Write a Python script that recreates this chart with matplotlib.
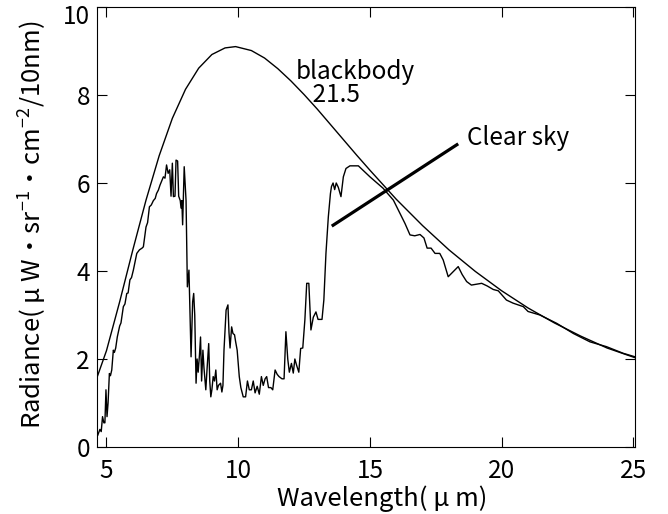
import matplotlib
matplotlib.use("Agg")
import matplotlib.pyplot as plt
from matplotlib.transforms import ScaledTranslation

plt.rcParams['font.family'] = ['Noto Sans CJK JP', 'DejaVu Sans']
plt.rcParams['mathtext.fontset'] = 'custom'
plt.rcParams['mathtext.rm'] = 'Noto Sans CJK JP'
plt.rcParams['mathtext.it'] = 'Noto Sans CJK JP'
plt.rcParams['mathtext.bf'] = 'Noto Sans CJK JP'

# ---- data ----
bb_wl = [4.64, 5.0, 5.5, 6.0, 6.5, 7.0, 7.5, 8.0, 8.5,
         9.0, 9.5, 9.9, 10.5, 11.0, 11.5, 12.0, 12.5, 13.0, 13.5, 14.0, 14.5,
         15.0, 16.0, 17.0, 18.0, 19.0, 20.0, 21.0, 22.0, 23.0, 24.0, 25.06]
bb_rad = [1.58, 2.19, 3.30, 4.48, 5.61, 6.62, 7.47, 8.13, 8.61,
          8.92, 9.07, 9.10, 9.01, 8.84, 8.60, 8.32, 8.01, 7.68, 7.33, 6.98, 6.63,
          6.29, 5.63, 5.03, 4.48, 3.99, 3.55, 3.16, 2.82, 2.52, 2.25, 2.03]

sky_wl = [4.67, 4.75, 4.80, 4.85, 4.90, 4.94, 4.98, 5.02, 5.06, 5.11, 5.15, 5.20,
          5.26, 5.30, 5.35, 5.41, 5.50, 5.55, 5.64, 5.70, 5.77, 5.82, 5.89, 5.95,
          6.02, 6.08, 6.15, 6.25, 6.35, 6.40, 6.50, 6.56, 6.63, 6.70, 6.78, 6.85,
          6.90, 6.97, 7.03, 7.10, 7.16, 7.22, 7.28, 7.34, 7.40, 7.45, 7.50, 7.54,
          7.60, 7.64, 7.70, 7.74, 7.80, 7.83, 7.86, 7.89, 7.95, 8.02, 8.07, 8.13,
          8.21, 8.27, 8.31, 8.35, 8.40, 8.44, 8.48, 8.53, 8.57, 8.61, 8.66, 8.70,
          8.77, 8.82, 8.88, 8.92, 8.96, 9.00, 9.05, 9.10, 9.15, 9.20, 9.25, 9.33,
          9.38, 9.42, 9.46, 9.54, 9.61, 9.65, 9.69, 9.75, 9.80, 9.86, 9.90, 9.96,
          10.04, 10.10, 10.19, 10.28, 10.35, 10.42, 10.50, 10.57, 10.64, 10.72,
          10.80, 10.88, 10.95, 11.02, 11.08, 11.15, 11.24, 11.31, 11.40, 11.48,
          11.55, 11.66, 11.74, 11.81, 11.88, 11.94, 12.02, 12.09, 12.15, 12.22,
          12.30, 12.37, 12.45, 12.53, 12.60, 12.68, 12.76, 12.85, 12.95, 13.03,
          13.10, 13.18, 13.25, 13.33, 13.42, 13.50, 13.54, 13.60, 13.66, 13.72,
          13.80, 13.90, 13.99, 14.09, 14.24, 14.56, 15.00, 15.50, 15.89, 16.14,
          16.33, 16.52, 16.70, 16.90, 17.05, 17.17, 17.32, 17.47, 17.65, 17.78,
          17.97, 18.15, 18.35, 18.50, 18.67, 18.85, 19.05, 19.24, 19.45, 19.68,
          19.87, 20.18, 20.43, 20.82, 21.00, 21.45, 22.09, 22.72, 23.35, 23.98,
          24.61, 25.06]
sky_rad = [0.27, 0.40, 0.35, 0.69, 0.55, 0.55, 1.30, 0.69, 1.00, 1.67, 1.62, 1.75,
           2.20, 2.15, 2.25, 2.50, 2.75, 2.82, 3.19, 3.25, 3.49, 3.50, 3.80, 3.85,
           4.02, 4.20, 4.40, 4.48, 4.52, 4.55, 5.00, 5.10, 5.46, 5.50, 5.60, 5.65,
           5.76, 5.84, 5.95, 6.05, 6.14, 6.11, 6.41, 6.22, 6.30, 5.70, 6.45, 5.69,
           5.70, 6.52, 6.50, 5.70, 5.60, 5.43, 5.60, 5.05, 6.37, 5.60, 3.64, 4.02,
           2.05, 3.30, 3.49, 3.00, 1.45, 2.00, 1.70, 2.10, 2.50, 1.50, 2.20, 1.80,
           1.30, 1.80, 2.35, 1.50, 1.14, 1.30, 1.60, 1.50, 1.75, 1.30, 1.40, 1.45,
           1.25, 1.40, 2.20, 3.11, 3.23, 2.60, 2.25, 2.73, 2.58, 2.55, 2.40, 2.20,
           1.60, 1.35, 1.14, 1.14, 1.50, 1.30, 1.30, 1.50, 1.23, 1.38,
           1.20, 1.60, 1.40, 1.55, 1.60, 1.35, 1.35, 1.30, 1.75, 1.65,
           1.60, 1.55, 1.55, 2.62, 2.00, 1.70, 1.90, 1.68, 2.00, 1.85,
           1.70, 2.24, 2.25, 2.89, 3.72, 3.72, 2.66, 2.95, 3.07, 2.90,
           2.90, 2.90, 3.34, 4.40, 5.23, 5.76, 5.92, 6.00, 5.85, 6.00,
           5.90, 5.69, 6.14, 6.33, 6.39, 6.39, 6.14, 5.88, 5.61, 5.31,
           5.08, 4.82, 4.80, 4.83, 4.75, 4.52, 4.52, 4.40, 4.40, 4.25,
           3.87, 3.98, 4.10, 3.92, 3.76, 3.68, 3.70, 3.72, 3.66, 3.58,
           3.55, 3.34, 3.27, 3.19, 3.08, 3.00, 2.81, 2.58, 2.39, 2.28,
           2.13, 2.05]

pointer_wl = [13.55, 18.35]
pointer_rad = [5.02, 6.89]

x_ticks = [5, 10, 15, 20, 25]
y_ticks = [0, 2, 4, 6, 8, 10]

FS = 17.5
LFS = 18.5

# ---- figure ----
fig = plt.figure(figsize=(6.68, 5.14), dpi=100)
fig.subplots_adjust(left=97/668, right=635/668, bottom=1-447/514, top=1-7/514)
ax = fig.add_subplot(111)

ax.plot(bb_wl, bb_rad, color='black', lw=1.0)
ax.plot(sky_wl, sky_rad, color='black', lw=1.0)
ax.plot(pointer_wl, pointer_rad, color='black', lw=2.3, solid_capstyle='butt')

ax.text(12.2, 7.85, 'blackbody\n   21.5', fontsize=FS, ha='left', va='baseline',
        multialignment='left', linespacing=0.85)
ax.text(18.67, 6.86, 'Clear sky', fontsize=FS, ha='left', va='baseline')

ax.set_xlim(4.64, 25.06)
ax.set_ylim(0, 10)
ax.set_xticks(x_ticks)
ax.set_yticks(y_ticks)
ax.tick_params(direction='in', length=7, width=0.8, labelsize=FS,
               top=True, right=True)
ax.tick_params(axis='x', pad=8)
ax.tick_params(axis='y', pad=5)
for s in ax.spines.values():
    s.set_linewidth(0.8)

# top "10" label sits a little lower in the reference
top_lab = ax.yaxis.get_major_ticks()[-1].label1
top_lab.set_transform(top_lab.get_transform() +
                      ScaledTranslation(0, -5/72, fig.dpi_scale_trans))

ax.set_xlabel('Wavelength( μ m)', fontsize=LFS)
ax.set_ylabel('Radiance( μ W・sr$^{-1}$・cm$^{-2}$/10nm)', fontsize=LFS)
ax.xaxis.set_label_coords(0.53, -0.088)
ax.yaxis.set_label_coords(-0.090, 0.505)

fig.savefig('out.png', dpi=100)
